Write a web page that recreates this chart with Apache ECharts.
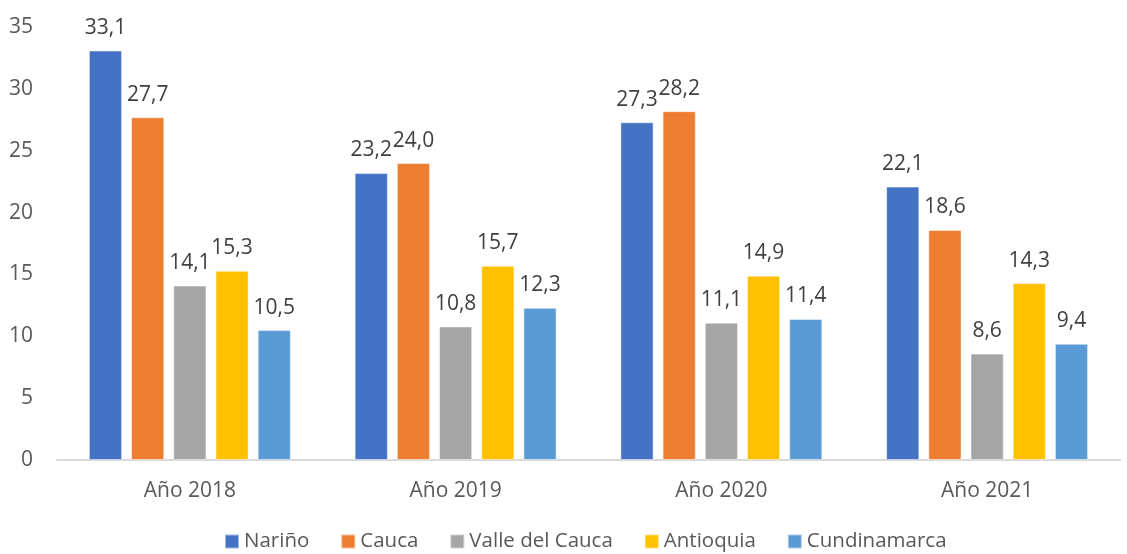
<!DOCTYPE html>
<html><head><meta charset="utf-8">
<script src="https://cdn.jsdelivr.net/npm/echarts@6/dist/echarts.min.js"></script>
<style>html,body{margin:0;padding:0;background:#fff}#c{width:1127px;height:554px}</style>
</head><body><div id="c"></div>
<script>
const categories = ['Año 2018', 'Año 2019', 'Año 2020', 'Año 2021'];
const seriesNames = ['Nariño', 'Cauca', 'Valle del Cauca', 'Antioquia', 'Cundinamarca'];
const narino = [33.1, 23.2, 27.3, 22.1];
const cauca = [27.7, 24.0, 28.2, 18.6];
const valle = [14.1, 10.8, 11.1, 8.6];
const antioquia = [15.3, 15.7, 14.9, 14.3];
const cundinamarca = [10.5, 12.3, 11.4, 9.4];
const yTicks = [0, 5, 10, 15, 20, 25, 30, 35];
const colors = ['#4472C4', '#ED7D31', '#A5A5A5', '#FFC000', '#5B9BD5'];
const allValues = [narino, cauca, valle, antioquia, cundinamarca];
const font = '"Open Sans", "Noto Sans", sans-serif';

const chart = echarts.init(document.getElementById('c'), null, {renderer: 'canvas'});
chart.setOption({
  animation: false,
  color: colors,
  grid: {left: 57, right: 7, top: 27, bottom: 94},
  legend: {
    top: 531, left: 224, padding: 0, itemWidth: 14, itemHeight: 14, itemGap: 31,
    icon: 'rect',
    textStyle: {fontFamily: font, fontSize: 20.5, color: '#595959'},
    data: seriesNames
  },
  xAxis: {
    type: 'category', data: categories,
    axisLine: {lineStyle: {color: '#D9D9D9', width: 2}},
    axisTick: {show: false},
    axisLabel: {fontFamily: font, fontSize: 21, color: '#595959', margin: 21}
  },
  yAxis: {
    type: 'value', min: yTicks[0], max: yTicks[yTicks.length - 1], interval: 5,
    axisLine: {show: false}, axisTick: {show: false}, splitLine: {show: false},
    axisLabel: {fontFamily: font, fontSize: 21, color: '#595959', margin: 24}
  },
  series: seriesNames.map((n, i) => ({
    name: n, type: 'bar', data: allValues[i],
    barGap: '27%', barCategoryGap: '24%',
    itemStyle: {color: colors[i], borderColor: 'rgba(255,255,255,0.5)', borderWidth: 1},
    label: {
      show: true, position: 'top', distance: 12,
      fontFamily: font, fontSize: 21, color: '#404040',
      formatter: p => p.value.toFixed(1).replace('.', ',')
    }
  }))
});
</script></body></html>
